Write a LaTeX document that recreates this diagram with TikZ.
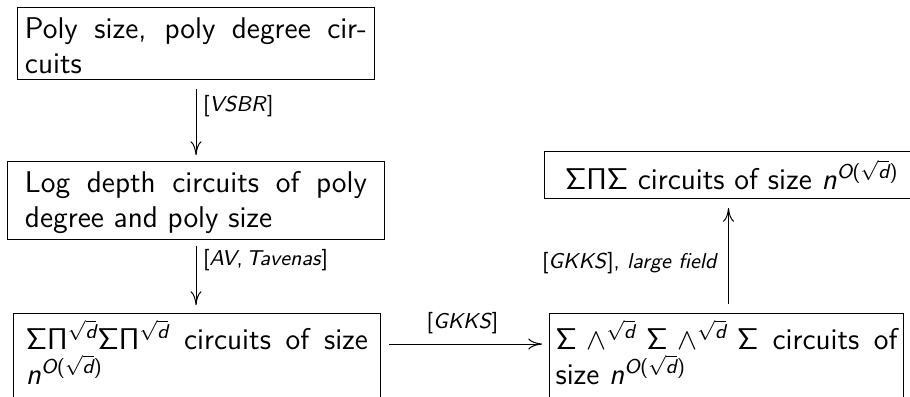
\documentclass[tikz,border=0pt]{standalone}
\usepackage{amsmath}
\usetikzlibrary{calc,arrows.meta}

% sans math pieces
\newcommand{\sqd}{\sqrt{\textit{d}}}
\newcommand{\nsize}{\textit{n}^{\textit{O}\text{(}\sqd\text{)}}}
\newcommand{\Sg}{\mathsf{\Sigma}}
\newcommand{\Pg}{\mathsf{\Pi}}
% justified two-line box text
\newcommand{\boxtext}[1]{\parbox[t]{136.8pt}{#1}}

\tikzset{
  box/.style={draw, line width=0.4pt, inner xsep=0pt, inner ysep=0pt,
    anchor=north west, font={\sffamily\fontsize{12}{14}\selectfont}},
  lab/.style={inner sep=0pt, font={\sffamily\fontsize{8.6}{10}\selectfont}},
  conn/.style={-{To[length=5.5pt,width=4.4pt]}, line width=0.4pt},
}

\begin{document}
\begin{tikzpicture}[x=0.4pt,y=-0.4pt]
\useasboundingbox (0,0) rectangle (910,396);
\clip (0,0) rectangle (910,396);

% boxes
\node[box, minimum width=357*0.4pt, text height=31*0.4pt, text depth=41*0.4pt]
  (b1) at (17,7) {\boxtext{Poly size, poly degree cir-\linebreak cuits}};
\node[box, minimum width=377*0.4pt, text height=31*0.4pt, text depth=47*0.4pt]
  (b2) at (7,161) {\boxtext{Log depth circuits of poly\linebreak degree and poly size}};
\node[box, minimum width=367*0.4pt, text height=36*0.4pt, text depth=110*0.4pt]
  (b3) at (13,313) {\boxtext{$\Sg\Pg^{\sqd}\Sg\Pg^{\sqd}$ circuits of size\linebreak $\nsize$}};
\node[box, minimum width=354*0.4pt, text height=36*0.4pt, text depth=110*0.4pt]
  (b4) at (549,313) {\boxtext{$\Sg\wedge^{\sqd}\Sg\wedge^{\sqd}\Sg$ circuits of\linebreak size $\nsize$}};
\node[box, minimum width=368*0.4pt, text height=38*0.4pt, text depth=9*0.4pt]
  (b5) at (544,151) {\hspace*{2.8pt}$\Sg\Pg\Sg$ circuits of size $\nsize$};

% reductions
\draw[conn, shorten <=9*0.4pt, shorten >=6*0.4pt] (b1.south) --
  node[lab, anchor=west, pos=0.32, xshift=2.6pt] {[\textit{VSBR}]}
  (b1.south |- b2.north);
\draw[conn, shorten <=6*0.4pt, shorten >=8*0.4pt] (b2.south) --
  node[lab, anchor=west, pos=0.27, xshift=2.6pt] {[\textit{AV},\,\textit{Tavenas}]}
  (b2.south |- b3.north);
\draw[conn, shorten <=8*0.4pt, shorten >=7*0.4pt] ($(b3.north east)+(0,31)$) --
  node[lab, pos=0.485, yshift=8.4pt] {[\textit{GKKS}]}
  ($(b4.north west)+(0,31)$);
\draw[conn, shorten <=9*0.4pt, shorten >=9*0.4pt] (b5.south |- b4.north) --
  node[lab, anchor=east, pos=0.44, xshift=-4pt] {[\textit{GKKS}], \textit{large field}}
  (b5.south);
\end{tikzpicture}
\end{document}
